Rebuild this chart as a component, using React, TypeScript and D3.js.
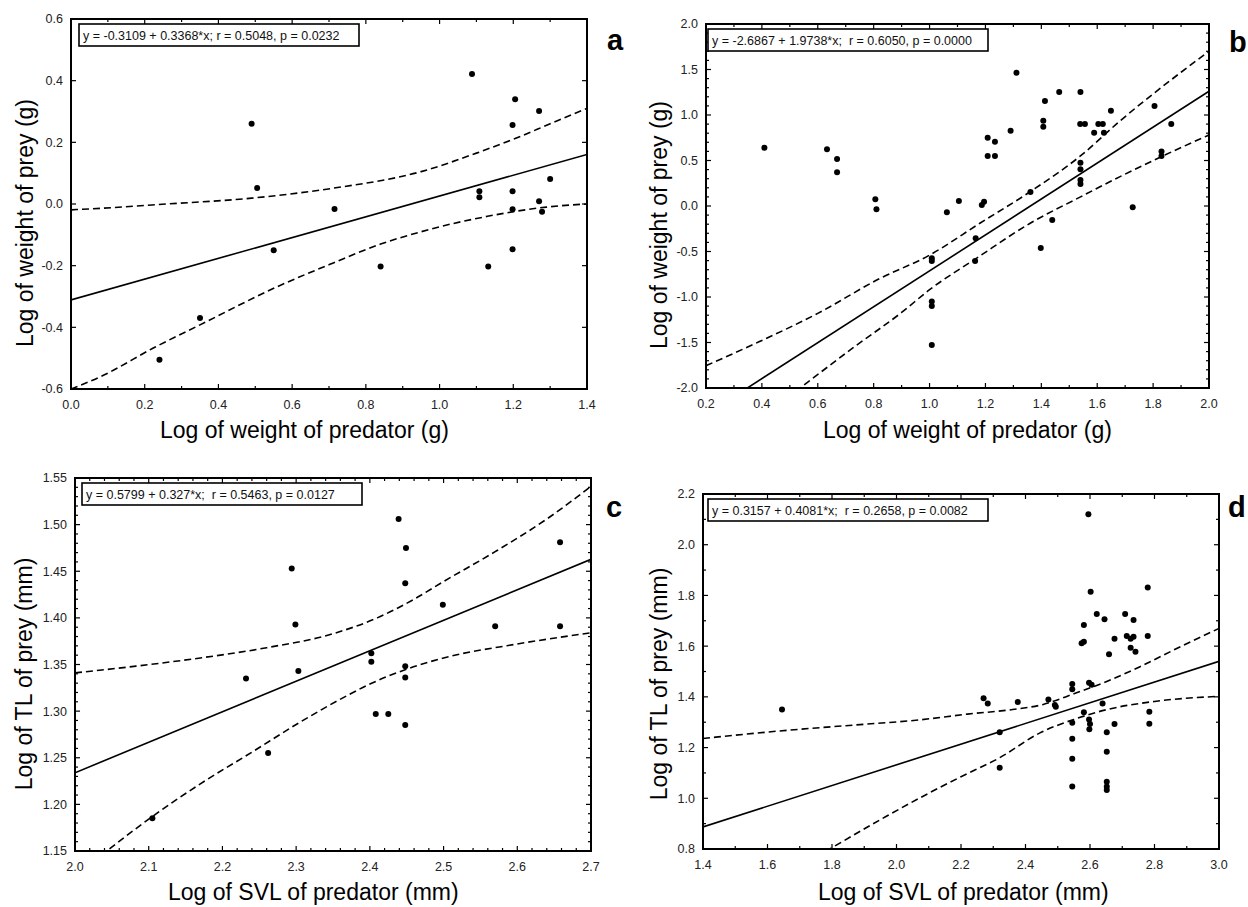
import React, { useEffect, useRef } from 'react';
import * as d3 from 'd3';

type Pt = [number, number];

// ---- panel a : log weight predator vs log weight prey
const pointsA: Pt[] = [
  [0.24, -0.505], [0.35, -0.37], [0.49, 0.26], [0.505, 0.052], [0.55, -0.15],
  [0.715, -0.016], [0.84, -0.203], [1.088, 0.422], [1.205, 0.34], [1.27, 0.302],
  [1.198, 0.256], [1.3, 0.081], [1.108, 0.041], [1.108, 0.022], [1.198, 0.041],
  [1.198, -0.017], [1.27, 0.009], [1.278, -0.025], [1.198, -0.147], [1.132, -0.203],
];
const upperA: Pt[] = [
  [0, -0.019], [0.08, -0.014], [0.26, 0.0], [0.49, 0.019], [0.71, 0.051],
  [0.95, 0.105], [1.1, 0.165], [1.2, 0.21], [1.3, 0.26], [1.4, 0.31],
];
const lowerA: Pt[] = [
  [0, -0.6], [0.08, -0.56], [0.23, -0.463], [0.35, -0.392], [0.56, -0.268],
  [0.71, -0.192], [0.84, -0.13], [0.95, -0.09], [1.0, -0.074], [1.13, -0.04],
  [1.2, -0.025], [1.29, -0.01], [1.4, 0.0],
];
const fitA = [-0.3109, 0.3368];
const eqA = 'y = -0.3109 + 0.3368*x; r = 0.5048, p = 0.0232';
const xTicksA = [0, 0.2, 0.4, 0.6, 0.8, 1.0, 1.2, 1.4];
const yTicksA = [-0.6, -0.4, -0.2, 0, 0.2, 0.4, 0.6];

// ---- panel b
const pointsB: Pt[] = [
  [0.409, 0.641], [0.633, 0.623], [0.669, 0.516], [0.669, 0.37], [0.806, 0.074], [0.81, -0.036],
  [1.008, -0.575], [1.008, -0.605], [1.008, -1.05], [1.008, -1.099], [1.008, -1.527],
  [1.062, -0.069], [1.105, 0.055], [1.165, -0.355], [1.163, -0.604], [1.187, 0.011], [1.195, 0.047],
  [1.208, 0.751], [1.234, 0.707], [1.208, 0.549], [1.234, 0.549], [1.29, 0.828], [1.311, 1.465],
  [1.361, 0.154], [1.398, -0.462], [1.407, 0.937], [1.407, 0.871], [1.413, 1.154], [1.439, -0.154],
  [1.464, 1.253], [1.54, 1.253], [1.539, 0.9], [1.556, 0.9], [1.54, 0.476], [1.54, 0.403],
  [1.54, 0.286], [1.54, 0.242], [1.589, 0.806], [1.604, 0.9], [1.62, 0.9], [1.624, 0.806],
  [1.649, 1.047], [1.727, -0.015], [1.805, 1.1], [1.83, 0.6], [1.83, 0.55], [1.865, 0.9],
];
const upperB: Pt[] = [
  [0.2, -1.755], [0.37, -1.52], [0.6, -1.18], [0.82, -0.8], [1.0, -0.54], [1.18, -0.19],
  [1.36, 0.157], [1.54, 0.55], [1.68, 0.93], [1.9, 1.47], [2.0, 1.7],
];
const lowerB: Pt[] = [
  [0.52, -2.04], [0.73, -1.55], [0.9, -1.17], [1.0, -0.92], [1.17, -0.57], [1.36, -0.19],
  [1.54, 0.1], [1.68, 0.32], [1.87, 0.6], [2.0, 0.78],
];
const fitB = [-2.6867, 1.9738];
const eqB = 'y = -2.6867 + 1.9738*x;  r = 0.6050, p = 0.0000';
const xTicksB = [0.2, 0.4, 0.6, 0.8, 1.0, 1.2, 1.4, 1.6, 1.8, 2.0];
const yTicksB = [-2.0, -1.5, -1.0, -0.5, 0, 0.5, 1.0, 1.5, 2.0];

// ---- panel c
const pointsC: Pt[] = [
  [2.105, 1.185], [2.232, 1.335], [2.262, 1.255], [2.294, 1.453], [2.299, 1.393],
  [2.303, 1.343], [2.402, 1.362], [2.402, 1.353], [2.408, 1.297], [2.425, 1.297],
  [2.439, 1.506], [2.449, 1.475], [2.448, 1.437], [2.448, 1.348], [2.448, 1.336],
  [2.448, 1.285], [2.499, 1.414], [2.57, 1.391], [2.658, 1.481], [2.658, 1.391],
];
const upperC: Pt[] = [
  [2.0, 1.341], [2.08, 1.348], [2.17, 1.357], [2.26, 1.368], [2.35, 1.383], [2.41, 1.4],
  [2.46, 1.42], [2.5, 1.439], [2.57, 1.471], [2.64, 1.506], [2.7, 1.541],
];
const lowerC: Pt[] = [
  [2.035, 1.145], [2.105, 1.187], [2.17, 1.222], [2.24, 1.256], [2.305, 1.288], [2.37, 1.317],
  [2.4, 1.329], [2.45, 1.345], [2.5, 1.357], [2.6, 1.372], [2.7, 1.384],
];
const fitC = [0.5799, 0.327];
const eqC = 'y = 0.5799 + 0.327*x;  r = 0.5463, p = 0.0127';
const xTicksC = [2.0, 2.1, 2.2, 2.3, 2.4, 2.5, 2.6, 2.7];
const yTicksC = [1.15, 1.2, 1.25, 1.3, 1.35, 1.4, 1.45, 1.5, 1.55];

// ---- panel d
const pointsD: Pt[] = [
  [1.645, 1.35], [2.27, 1.395], [2.283, 1.374], [2.376, 1.38], [2.32, 1.26], [2.32, 1.12],
  [2.471, 1.39], [2.491, 1.368], [2.494, 1.361], [2.545, 1.451], [2.545, 1.43], [2.545, 1.298],
  [2.545, 1.235], [2.545, 1.156], [2.545, 1.046], [2.581, 1.683], [2.574, 1.611], [2.581, 1.617],
  [2.595, 2.12], [2.602, 1.815], [2.597, 1.456], [2.605, 1.448], [2.581, 1.339], [2.597, 1.311],
  [2.6, 1.293], [2.598, 1.272], [2.621, 1.727], [2.645, 1.706], [2.639, 1.374], [2.652, 1.26],
  [2.652, 1.184], [2.652, 1.065], [2.652, 1.046], [2.652, 1.033], [2.659, 1.568], [2.676, 1.629],
  [2.676, 1.293], [2.709, 1.727], [2.714, 1.64], [2.726, 1.629], [2.735, 1.637], [2.735, 1.703],
  [2.726, 1.594], [2.741, 1.578], [2.779, 1.831], [2.779, 1.64], [2.784, 1.341], [2.784, 1.294],
];
const upperD: Pt[] = [
  [1.4, 1.236], [1.66, 1.268], [1.87, 1.289], [2.07, 1.309], [2.22, 1.332], [2.36, 1.35],
  [2.455, 1.37], [2.55, 1.412], [2.65, 1.46], [2.755, 1.519], [2.86, 1.585], [3.0, 1.67],
];
const lowerD: Pt[] = [
  [1.78, 0.79], [1.97, 0.93], [2.1, 1.02], [2.2, 1.085], [2.32, 1.16], [2.445, 1.258],
  [2.55, 1.311], [2.65, 1.349], [2.8, 1.382], [3.0, 1.402],
];
const fitD = [0.3157, 0.4081];
const eqD = 'y = 0.3157 + 0.4081*x;  r = 0.2658, p = 0.0082';
const xTicksD = [1.4, 1.6, 1.8, 2.0, 2.2, 2.4, 2.6, 2.8, 3.0];
const yTicksD = [0.8, 1.0, 1.2, 1.4, 1.6, 1.8, 2.0, 2.2];

const xTitleWeight = 'Log of weight of predator (g)';
const yTitleWeight = 'Log of weight of prey (g)';
const xTitleSvl = 'Log of SVL of predator (mm)';
const yTitleTl = 'Log of TL of prey (mm)';

const FONT = '"Liberation Sans", Arial, Helvetica, sans-serif';

const panels = [
  {
    id: 'a', l: 71, r: 587, t: 19, b: 389, xTicks: xTicksA, yTicks: yTicksA, xMinor: 0.1, yMinor: 0.2,
    xDec: 1, yDec: 1, points: pointsA, upper: upperA, lower: lowerA, fit: fitA, eq: eqA, eqDx: 8,
    xTitle: xTitleWeight, yTitle: yTitleWeight, xt: [160, 438], yt: [32.5, 223], lt: [607, 50],
  },
  {
    id: 'b', l: 706, r: 1209, t: 24, b: 388, xTicks: xTicksB, yTicks: yTicksB, xMinor: 0.1, yMinor: 0.1,
    xDec: 1, yDec: 1, points: pointsB, upper: upperB, lower: lowerB, fit: fitB, eq: eqB, eqDx: 2,
    xTitle: xTitleWeight, yTitle: yTitleWeight, xt: [823, 438], yt: [667, 225], lt: [1229, 52],
  },
  {
    id: 'c', l: 75, r: 591, t: 478, b: 851, xTicks: xTicksC, yTicks: yTicksC, xMinor: 0.02, yMinor: 0.01,
    xDec: 1, yDec: 2, points: pointsC, upper: upperC, lower: lowerC, fit: fitC, eq: eqC, eqDx: 7,
    xTitle: xTitleSvl, yTitle: yTitleTl, xt: [168, 900], yt: [32, 674], lt: [606, 517],
  },
  {
    id: 'd', l: 703, r: 1219, t: 494, b: 849, xTicks: xTicksD, yTicks: yTicksD, xMinor: 0.1, yMinor: 0.1,
    xDec: 1, yDec: 1, points: pointsD, upper: upperD, lower: lowerD, fit: fitD, eq: eqD, eqDx: 5,
    xTitle: xTitleSvl, yTitle: yTitleTl, xt: [818, 900], yt: [667, 684], lt: [1228, 517],
  },
];

const steps = (lo: number, hi: number, step: number) => {
  const n = Math.round((hi - lo) / step);
  return d3.range(n + 1).map(i => +(lo + i * step).toFixed(4));
};

const App = () => {
  const svgRef = useRef<SVGSVGElement>(null);

  useEffect(() => {
    const svg = d3.select(svgRef.current);
    svg.selectAll('*').remove();

    panels.forEach(p => {
      const xd = [p.xTicks[0], p.xTicks[p.xTicks.length - 1]];
      const yd = [p.yTicks[0], p.yTicks[p.yTicks.length - 1]];
      const x = d3.scaleLinear().domain(xd).range([p.l, p.r]);
      const y = d3.scaleLinear().domain(yd).range([p.b, p.t]);
      const g = svg.append('g');

      g.append('clipPath').attr('id', 'clip-' + p.id)
        .append('rect').attr('x', p.l).attr('y', p.t)
        .attr('width', p.r - p.l).attr('height', p.b - p.t);

      const plot = g.append('g').attr('clip-path', `url(#clip-${p.id})`);
      const curve = d3.line<Pt>().x(d => x(d[0])).y(d => y(d[1])).curve(d3.curveMonotoneX);
      const fitLine: Pt[] = xd.map(v => [v, p.fit[0] + p.fit[1] * v] as Pt);

      plot.append('path').attr('d', d3.line<Pt>().x(d => x(d[0])).y(d => y(d[1]))(fitLine))
        .attr('fill', 'none').attr('stroke', '#000').attr('stroke-width', 1.6);

      [p.upper, p.lower].forEach(band => {
        plot.append('path').attr('d', curve(band))
          .attr('fill', 'none').attr('stroke', '#000').attr('stroke-width', 1.6)
          .attr('stroke-dasharray', '7,4');
      });

      plot.selectAll('circle').data(p.points).enter().append('circle')
        .attr('cx', d => x(d[0])).attr('cy', d => y(d[1])).attr('r', 3).attr('fill', '#000');

      // inward ticks on all four sides
      const xMajor = new Set(p.xTicks.map(v => v.toFixed(4)));
      const yMajor = new Set(p.yTicks.map(v => v.toFixed(4)));
      steps(xd[0], xd[1], p.xMinor).forEach(v => {
        const len = xMajor.has(v.toFixed(4)) ? 5 : 3;
        g.append('line').attr('x1', x(v)).attr('x2', x(v)).attr('y1', p.b).attr('y2', p.b - len);
        g.append('line').attr('x1', x(v)).attr('x2', x(v)).attr('y1', p.t).attr('y2', p.t + len);
      });
      steps(yd[0], yd[1], p.yMinor).forEach(v => {
        const len = yMajor.has(v.toFixed(4)) ? 5 : 3;
        g.append('line').attr('x1', p.l).attr('x2', p.l + len).attr('y1', y(v)).attr('y2', y(v));
        g.append('line').attr('x1', p.r).attr('x2', p.r - len).attr('y1', y(v)).attr('y2', y(v));
      });
      g.selectAll('line').attr('stroke', '#000').attr('stroke-width', 1.2);

      g.append('rect').attr('x', p.l).attr('y', p.t)
        .attr('width', p.r - p.l).attr('height', p.b - p.t)
        .attr('fill', 'none').attr('stroke', '#000').attr('stroke-width', 2);

      // tick labels
      g.selectAll('.xl').data(p.xTicks).enter().append('text')
        .attr('x', d => x(d)).attr('y', p.b + 20)
        .attr('text-anchor', 'middle').attr('font-size', 12.5).attr('fill', '#222')
        .attr('font-family', FONT).text(d => d.toFixed(p.xDec));
      g.selectAll('.yl').data(p.yTicks).enter().append('text')
        .attr('x', p.l - 8).attr('y', d => y(d)).attr('dy', '0.35em')
        .attr('text-anchor', 'end').attr('font-size', 12.5).attr('fill', '#222')
        .attr('font-family', FONT).text(d => d.toFixed(p.yDec));

      // equation box
      g.append('rect').attr('x', p.l + p.eqDx).attr('y', p.t + 5)
        .attr('width', 280).attr('height', 22)
        .attr('fill', '#fff').attr('stroke', '#000').attr('stroke-width', 1.6);
      g.append('text').attr('x', p.l + p.eqDx + 4).attr('y', p.t + 21)
        .attr('font-size', 12.5).attr('font-family', FONT).attr('fill', '#111')
        .style('white-space', 'pre').text(p.eq);

      // axis titles and panel letter
      g.append('text').attr('x', p.xt[0]).attr('y', p.xt[1])
        .attr('font-size', 23).attr('font-family', FONT).attr('fill', '#000').text(p.xTitle);
      g.append('text').attr('transform', `translate(${p.yt[0]},${p.yt[1]}) rotate(-90)`)
        .attr('text-anchor', 'middle')
        .attr('font-size', 23).attr('font-family', FONT).attr('fill', '#000').text(p.yTitle);
      g.append('text').attr('x', p.lt[0]).attr('y', p.lt[1])
        .attr('font-size', 29).attr('font-weight', 'bold').attr('font-family', FONT)
        .attr('fill', '#000').text(p.id);
    });
  }, []);

  return (
    <div style={{ position: 'absolute', left: 0, top: 0, background: '#fff' }}>
      <svg ref={svgRef} width={1248} height={907}></svg>
    </div>
  );
};

export default App;
